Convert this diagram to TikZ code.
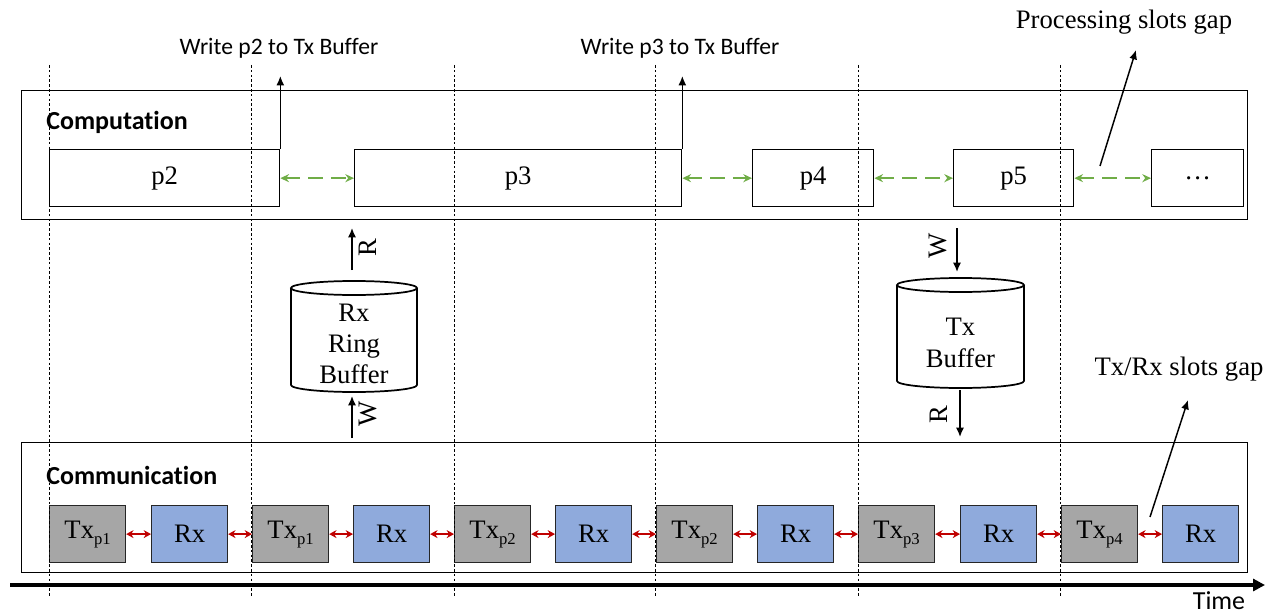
\documentclass[tikz,border=0pt]{standalone}
\usepackage{fontspec}
\setmainfont{Liberation Serif}
\newfontfamily\calibrifont[Ligatures={NoCommon}]{Carlito}
\usetikzlibrary{arrows.meta}
\definecolor{gapgreen}{HTML}{70AD47}
\definecolor{gapred}{HTML}{C00000}
\definecolor{txgray}{HTML}{A6A6A6}
\definecolor{rxblue}{HTML}{8FAADC}
\newcommand\txp[1]{Tx\lower4.5pt\hbox{\fontsize{12.5}{13}\selectfont #1}}
\begin{document}
\begin{tikzpicture}[x=0.75pt,y=-0.75pt,
  serif/.style={font=\fontsize{20}{23.5}\selectfont},
  panel/.style={draw, line width=0.9pt, inner sep=0pt, anchor=north west, minimum width=919.5pt},
  paneltitle/.style={anchor=base west, inner sep=0pt, font=\calibrifont\bfseries\fontsize{19.5}{22}\selectfont},
  procbox/.style={draw, line width=1pt, inner sep=0pt, anchor=north west, minimum height=42.75pt, serif},
  slotbox/.style={draw=black!85, line width=0.9pt, inner sep=0pt, anchor=north west, minimum width=57pt, minimum height=42.75pt, serif},
  txbox/.style={slotbox, fill=txgray},
  rxbox/.style={slotbox, fill=rxblue},
  greengap/.style={gapgreen, line width=1.6pt, dash pattern=on 11pt off 6pt, {Stealth[length=6.5pt,width=6pt]}-{Stealth[length=6.5pt,width=6pt]}},
  redgap/.style={gapred, line width=1.5pt, {Stealth[length=5.5pt,width=6pt]}-{Stealth[length=5.5pt,width=6pt]}},
  flow/.style={line width=1.1pt, -{Latex[length=7pt,width=6pt]}},
  note/.style={line width=1.1pt, -{Latex[length=7pt,width=6pt]}},
  calibri/.style={font=\calibrifont\fontsize{17.7}{20}\selectfont},
  rwlabel/.style={serif, rotate=90, inner sep=0pt},
  timeline/.style={dash pattern=on 2pt off 1.6pt, line width=0.6pt},
  cyl/.style={line width=1.3pt}
]
\useasboundingbox (0,0) rectangle (1266,613);

% panels
\node[panel, minimum height=96.75pt] (comp) at (21,90) {};
\node[paneltitle] (comptitle) at (46,130) {Computation};
\node[panel, minimum height=97.5pt] (comm) at (21,442) {};
\node[paneltitle] (commtitle) at (46,484) {Communication};

% processing slots
\node[procbox, minimum width=172.5pt] (p2) at (49,149) {p2};
\node[procbox, minimum width=245.25pt] (p3) at (354,149) {p3};
\node[procbox, minimum width=90.75pt] (p4) at (752,149) {p4};
\node[procbox, minimum width=90pt] (p5) at (953,149) {p5};
\node[procbox, minimum width=69pt] (pd) at (1151,149) {\dots};

\draw[greengap] (p2.east) -- (p3.west);
\draw[greengap] (p3.east) -- (p4.west);
\draw[greengap] (p4.east) -- (p5.west);
\draw[greengap] (p5.east) -- (pd.west);

% write arrows
\coordinate (w2) at (279,76);
\coordinate (w3) at (681,76);
\draw[flow] (p2.north east) -- (p2.north east |- w2);
\draw[flow] (p3.north east) -- (p3.north east |- w3);
\node[calibri] (w2t) at (279,48) {Write p2 to Tx Buffer};
\node[calibri] (w3t) at (680,48) {Write p3 to Tx Buffer};

% processing slots gap note
\node[serif, anchor=base] (psg) at (1124,29) {Processing slots gap};
\coordinate (psgA) at (1100,166);
\coordinate (psgB) at (1136,50);
\draw[note] (psgA) -- (psgB);

% communication slots
\node[txbox] (t1) at (49,505) {\txp{p1}};
\node[rxbox] (r1) at (151,505) {Rx};
\node[txbox] (t2) at (252,505) {\txp{p1}};
\node[rxbox] (r2) at (353,505) {Rx};
\node[txbox] (t3) at (454,505) {\txp{p2}};
\node[rxbox] (r3) at (555,505) {Rx};
\node[txbox] (t4) at (656,505) {\txp{p2}};
\node[rxbox] (r4) at (757,505) {Rx};
\node[txbox] (t5) at (858,505) {\txp{p3}};
\node[rxbox] (r5) at (960,505) {Rx};
\node[txbox] (t6) at (1061,505) {\txp{p4}};
\node[rxbox] (r6) at (1162,505) {Rx};

\foreach \a/\b in {t1/r1,r1/t2,t2/r2,r2/t3,t3/r3,r3/t4,t4/r4,r4/t5,t5/r5,r5/t6,t6/r6}
  \draw[redgap] (\a.east) -- (\b.west);

% Tx/Rx slots gap note
\node[serif, anchor=base] (trg) at (1179,375) {Tx/Rx slots gap};
\coordinate (trgA) at (1150,517);
\coordinate (trgB) at (1188,400);
\draw[note] (trgA) -- (trgB);

% Rx ring buffer
\draw[cyl, fill=white] (291,288) -- (291,385)
  arc[start angle=180, end angle=360, x radius=47.25pt, y radius=5.25pt] -- (417,288);
\draw[cyl] (354,288) ellipse[x radius=47.25pt, y radius=5.25pt];
\node[serif, align=center, inner sep=0pt] (rxbuf) at (354,344) {Rx\\Ring\\Buffer};
\coordinate (rxR0) at (352,270);
\coordinate (rxR1) at (352,228);
\coordinate (rxW0) at (352,438);
\coordinate (rxW1) at (352,396);
\draw[flow] (rxR0) -- (rxR1);
\draw[flow] (rxW0) -- (rxW1);
\node[rwlabel] (rxRl) at (368,248) {R};
\node[rwlabel] (rxWl) at (368,414) {W};

% Tx buffer
\draw[cyl, fill=white] (897,285) -- (897,381)
  arc[start angle=180, end angle=360, x radius=47.6pt, y radius=5.25pt] -- (1024,285);
\draw[cyl] (960.5,285) ellipse[x radius=47.6pt, y radius=5.25pt];
\node[serif, align=center, inner sep=0pt] (txbuf) at (960.5,343) {Tx\\Buffer};
\coordinate (txW0) at (957,228);
\coordinate (txW1) at (957,272);
\coordinate (txR0) at (960,390);
\coordinate (txR1) at (960,437);
\draw[flow] (txW0) -- (txW1);
\draw[flow] (txR0) -- (txR1);
\node[rwlabel] (txWl) at (938,246) {W};
\node[rwlabel] (txRl) at (939,415) {R};

% time axis
\coordinate (tA) at (10,585);
\coordinate (tB) at (1265,585);
\draw[line width=3pt, -{Triangle[length=9pt,width=9pt]}] (tA) -- (tB);
\node[anchor=base, inner sep=0pt, font=\calibrifont\fontsize{19.5}{22}\selectfont] (time) at (1219,609) {Time};

% vertical time lines
\foreach \x in {49,251,454,655,858,1060}
  \draw[timeline] (\x,65) -- (\x,597);
\end{tikzpicture}
\end{document}
